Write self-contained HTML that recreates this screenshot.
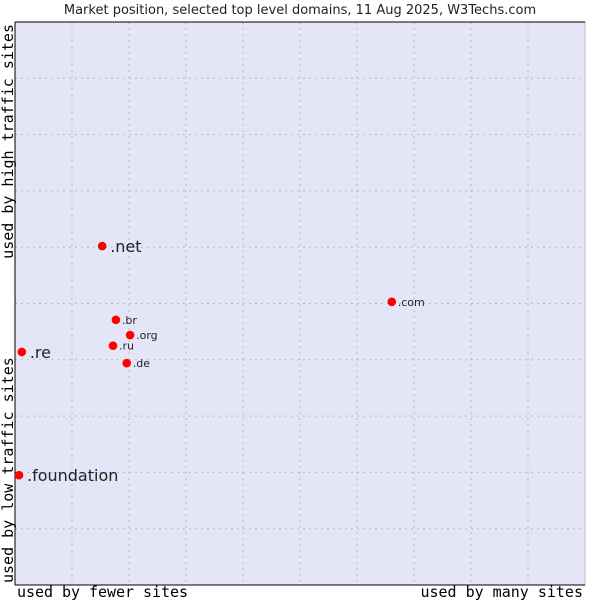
<!DOCTYPE html>
<html><head><meta charset="utf-8"><style>
body{margin:0;background:#fff;width:600px;height:600px;overflow:hidden}
</style></head><body>
<svg id="chart" width="600" height="600" xmlns="http://www.w3.org/2000/svg">
<text x="300" y="14" text-anchor="middle" font-family="DejaVu Sans, sans-serif" font-size="13" fill="#222">Market position, selected top level domains, 11 Aug 2025, W3Techs.com</text>
<rect x="15" y="22" width="570" height="563" fill="#e4e5f7" stroke="#bbb" stroke-width="1"/>
<g id="grid"></g>
<line x1="15" y1="22" x2="585" y2="22" stroke="#000"/>
<line x1="15" y1="22" x2="15" y2="585" stroke="#000"/>
<line x1="15" y1="585" x2="585" y2="585" stroke="#000"/>
<g id="points"></g>
<text x="17" y="597" font-family="DejaVu Sans Mono, monospace" font-size="15" fill="#000" textLength="171">used by fewer sites</text>
<text x="583" y="597" text-anchor="end" font-family="DejaVu Sans Mono, monospace" font-size="15" fill="#000">used by many sites</text>
<text transform="translate(13,583) rotate(-90)" font-family="DejaVu Sans Mono, monospace" font-size="15" fill="#000">used by low traffic sites</text>
<text transform="translate(13,24) rotate(-90)" text-anchor="end" font-family="DejaVu Sans Mono, monospace" font-size="15" fill="#000">used by high traffic sites</text>
</svg>
<script>
const domains=[".net",".com",".br",".org",".ru",".de",".re",".foundation"];
const xValues=[1.53,6.61,1.77,2.02,1.72,1.96,0.12,0.07];
const yValues=[6.02,5.03,4.71,4.44,4.25,3.94,4.14,1.95];
const labelSizes=[16,11,11,11,11,11,16,16];
const NS="http://www.w3.org/2000/svg";
const X0=15,X1=585,Y0=585,Y1=22,MAX=10;
const sx=v=>X0+v/MAX*(X1-X0);
const sy=v=>Y0-v/MAX*(Y0-Y1);
const grid=document.getElementById('grid');
for(let i=1;i<MAX;i++){
 const v=document.createElementNS(NS,'line');
 v.setAttribute('x1',sx(i));v.setAttribute('x2',sx(i));v.setAttribute('y1',Y1);v.setAttribute('y2',Y0);
 v.setAttribute('stroke','#bbb');v.setAttribute('stroke-dasharray','2,4');
 
 
 grid.appendChild(v);
 const h=document.createElementNS(NS,'line');
 h.setAttribute('y1',sy(i));h.setAttribute('y2',sy(i));h.setAttribute('x1',X0);h.setAttribute('x2',X1);
 h.setAttribute('stroke','#bbb');h.setAttribute('stroke-dasharray','2,4');
 
 
 grid.appendChild(h);
}
const pts=document.getElementById('points');
domains.forEach((d,i)=>{
 const x=sx(xValues[i]),y=sy(yValues[i]);
 const p=document.createElementNS(NS,'circle');
 p.setAttribute('cx',x);p.setAttribute('cy',y);p.setAttribute('r',4.3);
 p.setAttribute('fill','#f00');
 
 
 pts.appendChild(p);
 const t=document.createElementNS(NS,'text');
 t.setAttribute('x',x+(labelSizes[i]>12?8:6));
 t.setAttribute('y',y+(labelSizes[i]>12?6:4));
 t.setAttribute('font-family','DejaVu Sans, sans-serif');
 t.setAttribute('font-size',labelSizes[i]);
 t.setAttribute('fill','#222');
 t.textContent=d;
 
 
 pts.appendChild(t);
});
</script>
</body></html>
